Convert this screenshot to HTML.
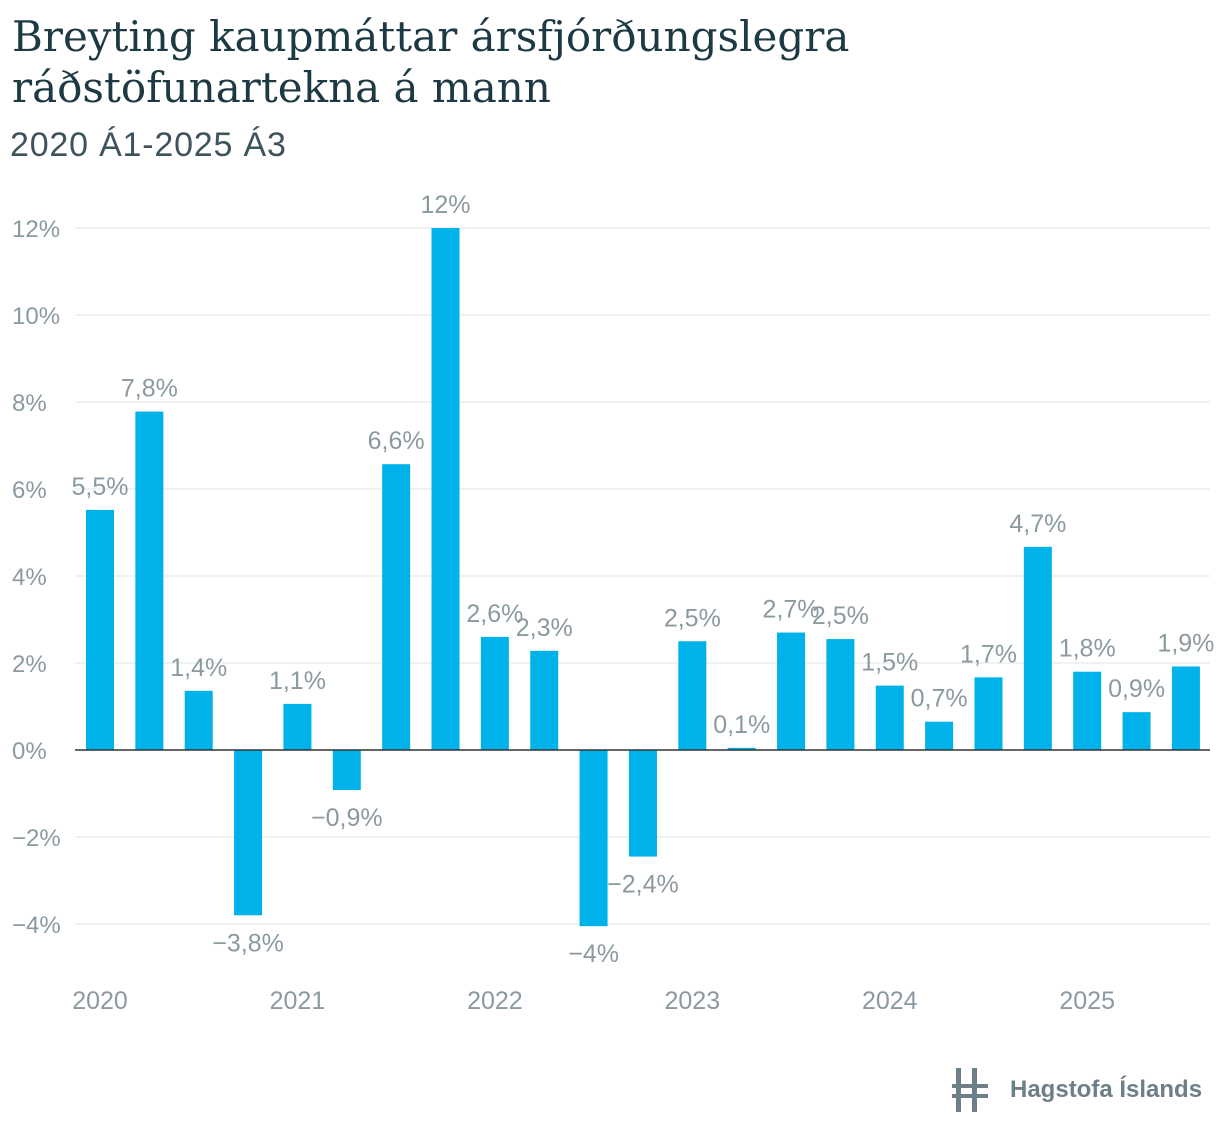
<!DOCTYPE html>
<html><head><meta charset="utf-8">
<style>
body{margin:0;background:#fff;width:1220px;height:1140px;overflow:hidden;font-family:"Liberation Sans",sans-serif}
.t{position:absolute;left:12px;color:#1d3a44;font-family:"DejaVu Serif",serif;font-size:42px;line-height:51px;white-space:nowrap}
</style></head><body>
<div class="t" style="top:11px">Breyting kaupmáttar ársfjórðungslegra<br>ráðstöfunartekna á mann</div>
<div style="position:absolute;left:10px;top:126px;font-size:34px;color:#3d545c;letter-spacing:0.8px">2020 Á1-2025 Á3</div>
<svg id="c" width="1220" height="1140" style="position:absolute;left:0;top:0"></svg>
<script>
const values=[5.52,7.78,1.36,-3.8,1.06,-0.92,6.57,12.0,2.6,2.28,-4.05,-2.45,2.5,0.05,2.7,2.55,1.48,0.65,1.67,4.67,1.8,0.87,1.92];
const labels=["5,5%","7,8%","1,4%","−3,8%","1,1%","−0,9%","6,6%","12%","2,6%","2,3%","−4%","−2,4%","2,5%","0,1%","2,7%","2,5%","1,5%","0,7%","1,7%","4,7%","1,8%","0,9%","1,9%"];
const yTicks=[-4,-2,0,2,4,6,8,10,12];
const yTickLabels=["−4%","−2%","0%","2%","4%","6%","8%","10%","12%"];
const years=["2020","2021","2022","2023","2024","2025"];
const yearIdx=[0,4,8,12,16,20];
const svg=document.getElementById('c');const NS='http://www.w3.org/2000/svg';
const y=v=>750-v*43.5;const x=i=>100+i*49.36;
function mk(t,a,txt){const e=document.createElementNS(NS,t);for(const k in a)e.setAttribute(k,a[k]);if(txt!==undefined)e.textContent=txt;svg.appendChild(e);return e;}
yTicks.forEach((v,i)=>{
 if(v!==0){const g=mk('line',{x1:75,x2:1210,y1:y(v),y2:y(v),stroke:'#e2e5e6','stroke-width':1});
 
 }
 const t=mk('text',{x:12,y:y(v)+9,'font-size':24,fill:'#8a9aa0'},yTickLabels[i]);
 
 
});
values.forEach((v,i)=>{
 const top=Math.min(y(v),y(0)),h=Math.abs(y(v)-y(0));
 const r=mk('rect',{x:x(i)-14,y:top,width:28,height:Math.max(h,1),fill:'#00b2ea'});
 
 
 const ly=v>=0?y(v)-15:y(v)+36;
 const t=mk('text',{x:x(i),y:ly,'font-size':25,fill:'#8a9aa0','text-anchor':'middle'},labels[i]);
 
 
});
const z=mk('line',{x1:75,x2:1210,y1:y(0),y2:y(0),stroke:'#333','stroke-width':1.5});


years.forEach((yr,i)=>{
 const t=mk('text',{x:x(yearIdx[i]),y:1009,'font-size':25,fill:'#8a9aa0','text-anchor':'middle'},yr);
 
 
});
</script>
<div style="position:absolute;left:952px;top:1066px;width:260px;height:50px">
<div style="position:absolute;left:4px;top:2px;width:5px;height:44px;background:#6d8088"></div>
<div style="position:absolute;left:20px;top:2px;width:5px;height:44px;background:#6d8088"></div>
<div style="position:absolute;left:0;top:18px;width:36px;height:4px;background:#6d8088"></div>
<div style="position:absolute;left:0;top:28px;width:36px;height:4px;background:#6d8088"></div>
<div style="position:absolute;left:58px;top:10px;font-size:24px;font-weight:bold;color:#6d8088;white-space:nowrap">Hagstofa Íslands</div>
</div>
</body></html>
